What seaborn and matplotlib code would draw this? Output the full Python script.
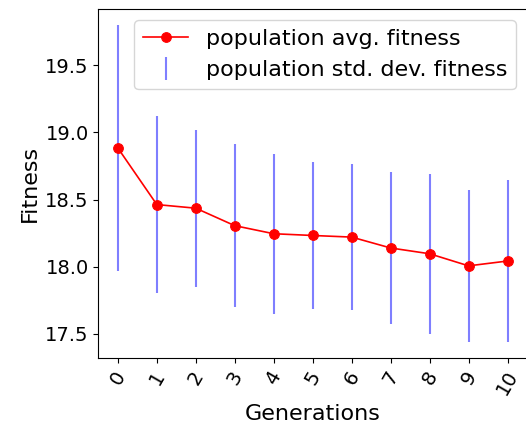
import numpy as np
import pandas as pd
import matplotlib
matplotlib.use("Agg")
import matplotlib.pyplot as plt
import seaborn as sns

generations = [0, 1, 2, 3, 4, 5, 6, 7, 8, 9, 10]
avg_fitness = [18.884, 18.463, 18.436, 18.306, 18.246, 18.233, 18.221, 18.140, 18.097, 18.007, 18.043]
std_fitness = [0.915, 0.656, 0.585, 0.607, 0.597, 0.546, 0.544, 0.564, 0.596, 0.565, 0.603]

df = pd.DataFrame({"gen": generations, "avg": avg_fitness, "std": std_fitness})

plt.rcParams["font.family"] = ["DejaVu Sans"]
fig = plt.figure(figsize=(5.26, 4.37), dpi=100)
ax = fig.add_axes([0.187, 0.181, 0.815, 0.798])

ax.errorbar(df["gen"], df["avg"], yerr=df["std"], fmt="none", ecolor="blue",
            alpha=0.5, elinewidth=1.5, label="population std. dev. fitness", zorder=1)
sns.lineplot(data=df, x="gen", y="avg", ax=ax, color="red", marker="o",
             markersize=7, markeredgecolor="red", linewidth=1.2,
             label="population avg. fitness", zorder=3)

ax.set_xticks(generations)
ax.set_xticklabels([str(g) for g in generations], rotation=60, fontsize=14)
ax.tick_params(axis="y", labelsize=14)
ax.set_yticks([17.5, 18.0, 18.5, 19.0, 19.5])
ax.set_xlabel("Generations", fontsize=16)
ax.set_ylabel("Fitness", fontsize=16)

handles, labels = ax.get_legend_handles_labels()
order = [labels.index("population avg. fitness"), labels.index("population std. dev. fitness")]
ax.legend([handles[i] for i in order], [labels[i] for i in order],
          loc="upper right", fontsize=16)

fig.savefig("out.png", dpi=100)
